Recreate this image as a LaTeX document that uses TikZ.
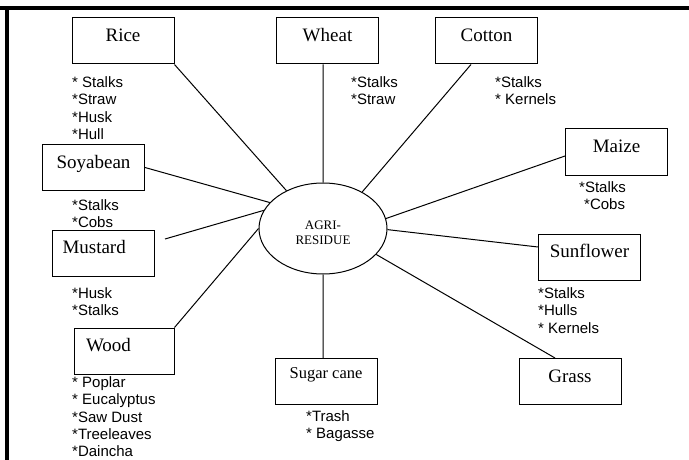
\documentclass[tikz,border=0pt]{standalone}
\usepackage{fontspec}
\setmainfont{Liberation Serif}
\newfontfamily\listfont{Liberation Sans}
\usetikzlibrary{shapes.geometric}
\begin{document}
\begin{tikzpicture}[x=1pt,y=-1pt]
		\tikzstyle{crop}=[draw,line width=1pt,minimum width=102pt,minimum height=46pt,inner sep=0pt,text height=13pt,text depth=12pt,font=\fontsize{19}{22}\selectfont];
		\tikzstyle{lefttext}=[inner xsep=10pt,text width=82pt,align=left];
		\tikzstyle{residue}=[anchor=north west,inner sep=0pt,align=left,font=\listfont\fontsize{15}{17.3}\selectfont];
		\useasboundingbox (0,0) rectangle (689,460);
		% frame
		\draw[line width=4pt] (0,8.5) -- (689,8.5);
		\draw[line width=3.5pt] (7,8) -- (7,460);
		% centre
		\node[draw,line width=1pt,shape=ellipse,minimum width=128pt,minimum height=91pt,inner sep=0pt,align=center,font=\fontsize{13}{14.5}\selectfont] (agri) at (323,228.5) {\rule{0pt}{17pt}AGRI-\\RESIDUE};
		% crops
		\node[crop] (rice) at (123,41) {Rice};
		\node[crop] (wheat) at (327.5,41) {Wheat};
		\node[crop] (cotton) at (486.5,41) {Cotton};
		\node[crop] (soya) at (93.5,167.5) {Soyabean};
		\node[crop] (maize) at (616.5,152) {Maize};
		\node[crop,lefttext] (mustard) at (103.5,253) {Mustard};
		\node[crop,lefttext,inner xsep=12pt,text width=76pt,minimum width=100pt] (wood) at (124,351) {Wood};
		\node[crop,text depth=19pt,font=\fontsize{16.5}{19}\selectfont] (sugar) at (326,381.5) {Sugar cane};
		\node[crop] (sunflower) at (589.5,257) {Sunflower};
		\node[crop] (grass) at (570,381.5) {Grass};
		% residues
		\node[residue] (ricer) at (72,76.5) {* Stalks\\*Straw\\*Husk\\*Hull};
		\node[residue] (wheatr) at (351,76.5) {*Stalks\\*Straw};
		\node[residue] (cottonr) at (495,76.5) {*Stalks\\* Kernels};
		\node[residue] (soyar) at (72,199.5) {*Stalks\\*Cobs};
		\node[residue] (maizer) at (579,181.5) {*Stalks\\\hspace*{5pt}*Cobs};
		\node[residue] (mustardr) at (72,287.5) {*Husk\\*Stalks};
		\node[residue] (sunflowerr) at (538,287.5) {*Stalks\\*Hulls\\* Kernels};
		\node[residue] (woodr) at (72,376.5) {* Poplar\\* Eucalyptus\\*Saw Dust\\*Treeleaves\\*Daincha};
		\node[residue] (sugarr) at (306,410.5) {*Trash\\* Bagasse};
		\coordinate (mustardend) at ([xshift=10pt,yshift=14pt]mustard.east);
		\draw[line width=1pt](rice.south east) -- (agri.134)
		(agri.north) -- (agri.north |- wheat.south)
		([xshift=-15.5pt]cotton.south) -- (agri.43)
		(soya.east) -- (agri.154)
		(mustardend) -- (agri.163)
		(wood.north east) -- (agri.180)
		([yshift=-4pt]maize.west) -- (agri.9)
		([yshift=10pt]sunflower.west) -- (agri.-1)
		([xshift=-15pt]grass.north) -- (agri.-26)
		(agri.south) -- (agri.south |- sugar.north);
		\end{tikzpicture}
\end{document}
